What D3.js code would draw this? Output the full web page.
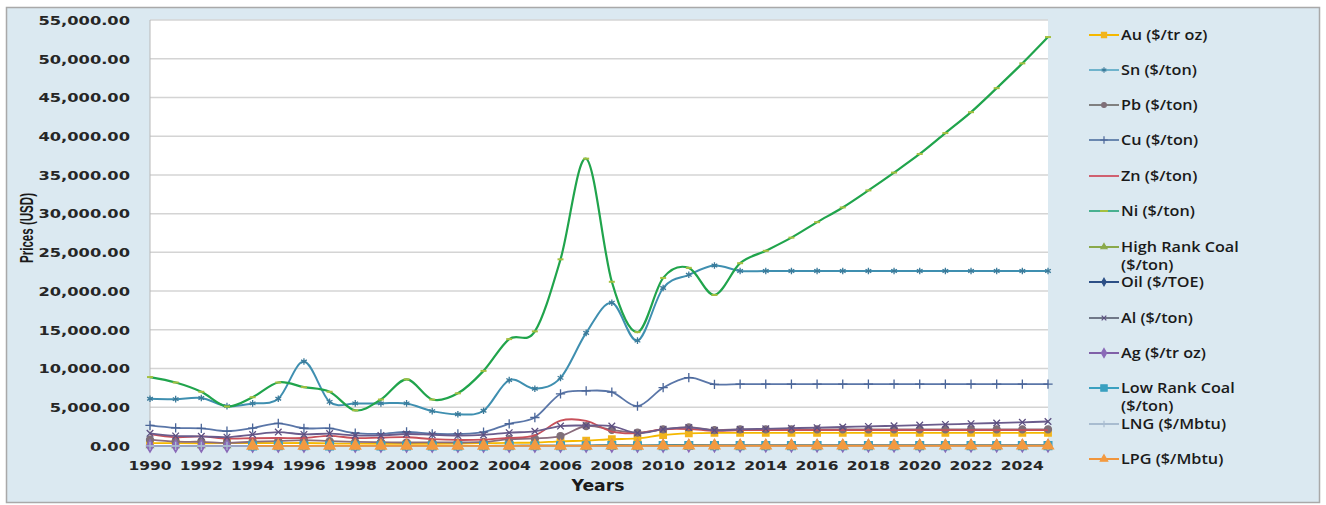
<!DOCTYPE html>
<html><head><meta charset="utf-8">
<script src="https://cdn.jsdelivr.net/npm/d3@7"></script>
<style>html,body{margin:0;padding:0;background:#fff;}svg{display:block;}</style>
</head><body>
<svg id="chart" width="1326" height="505"></svg>
<script>
const years = [1990,1991,1992,1993,1994,1995,1996,1997,1998,1999,2000,2001,2002,2003,2004,2005,2006,2007,2008,2009,2010,2011,2012,2013,2014,2015,2016,2017,2018,2019,2020,2021,2022,2023,2024,2025];
const yTicks = [0,5000,10000,15000,20000,25000,30000,35000,40000,45000,50000,55000];
const xTickYears = [1990,1992,1994,1996,1998,2000,2002,2004,2006,2008,2010,2012,2014,2016,2018,2020,2022,2024];

const au  = [384,362,344,360,384,384,388,331,294,279,279,271,310,363,409,444,604,695,872,972,1420,1630,1700,1700,1700,1700,1700,1700,1700,1700,1700,1700,1700,1700,1700,1700];
const sn  = [6100,6050,6200,5150,5500,6100,10900,5700,5500,5500,5500,4500,4100,4550,8500,7400,8800,14600,18500,13600,20400,22100,23300,22600,22600,22600,22600,22600,22600,22600,22600,22600,22600,22600,22600,22600];
const pb  = [810,560,540,410,550,630,770,620,530,500,450,480,450,520,880,980,1290,2580,2090,1720,2150,2400,2060,2150,2150,2150,2150,2150,2150,2150,2150,2150,2150,2150,2150,2150];
const cu  = [2660,2340,2280,1910,2310,2930,2290,2280,1650,1570,1810,1580,1560,1780,2870,3680,6720,7120,6960,5150,7530,8820,7960,8000,8000,8000,8000,8000,8000,8000,8000,8000,8000,8000,8000,8000];
const zn  = [1520,1120,1240,960,1000,1030,1030,1310,1020,1080,1130,890,780,830,1050,1380,3270,3240,1870,1660,2160,2190,1950,2050,2050,2050,2050,2050,2050,2050,2050,2050,2050,2050,2050,2050];
const ni  = [8900,8200,7000,5100,6300,8200,7600,7000,4600,6000,8600,6000,6800,9700,13800,14800,24100,37100,21200,14700,21700,23000,19500,23600,25200,26900,28900,30800,33000,35300,37700,40400,43100,46200,49400,52800];
const hrc = [40,40,38,33,35,40,40,38,32,30,30,38,30,35,55,52,50,65,125,75,100,120,95,95,95,95,95,95,95,95,95,95,95,95,95,95];
const oil = [23,20,19,17,16,17,21,19,13,18,28,24,25,29,38,54,65,72,97,62,79,104,105,100,100,100,100,100,100,100,100,100,100,100,100,100];
const al  = [1640,1300,1250,1140,1480,1800,1500,1600,1360,1360,1550,1440,1350,1430,1720,1900,2570,2640,2570,1665,2170,2400,2020,2150,2220,2300,2370,2450,2530,2610,2700,2790,2880,2970,3060,3160];
const ag  = [4.8,4.0,3.9,4.3,5.3,5.2,5.2,4.9,5.5,5.2,5.0,4.4,4.6,4.9,6.7,7.3,11.5,13.4,15.0,14.7,20.2,35.1,31.2,31,31,31,31,31,31,31,31,31,31,31,31,31];
const lrc = [null,null,null,null,18,20,20,19,16,15,15,19,15,18,28,26,25,33,63,38,50,60,48,48,48,48,48,48,48,48,48,48,48,48,48,48];
const lng = [3.6,3.7,3.2,3.0,2.8,3.0,3.6,3.7,3.0,3.2,4.7,4.5,4.3,4.8,5.2,6.0,7.1,7.7,12.6,8.9,10.9,14.7,16.6,16,16,16,16,16,16,16,16,16,16,16,16,16];
const lpg = [null,null,null,null,8,8,10,9,6,8,12,11,10,12,15,18,21,24,30,20,25,30,30,30,30,30,30,30,30,30,30,30,30,30,30,30];

const seriesNames = ["Au ($/tr oz)","Sn ($/ton)","Pb ($/ton)","Cu ($/ton)","Zn ($/ton)","Ni ($/ton)","High Rank Coal|($/ton)","Oil ($/TOE)","Al ($/ton)","Ag ($/tr oz)","Low Rank Coal|($/ton)","LNG ($/Mbtu)","LPG ($/Mbtu)"];
const seriesValues = [au,sn,pb,cu,zn,ni,hrc,oil,al,ag,lrc,lng,lpg];

const styles = [
  {line:"#f5b800", mk:"square", mfill:"#f2b41c", mstroke:"#f2b41c", ms:42, w:1.8, lms:26},
  {line:"#3f8fb0", mk:"asterisk", mfill:"none", mstroke:"#3a7a9a", ms:30, w:2, legLine:"#6fb3cc", lms:20},
  {line:"#8a6c7c", mk:"circle", mfill:"#7f6f78", mstroke:"#7f6f78", ms:38, w:1.8, legLine:"#808080", lms:18},
  {line:"#5a76a8", mk:"plus", mfill:"none", mstroke:"#4a6598", ms:30, w:1.8, legLine:"#6a88b0", lms:20},
  {line:"#c8505a", mk:"none", w:1.8, legLine:"#d06070"},
  {line:"#20a44c", mk:"dash", mfill:"none", mstroke:"#a4c040", ms:6, w:2.2, legLine:"#48b090", lms:8},
  {line:"#8aa94a", mk:"triangle", mfill:"#8aa94a", mstroke:"#8aa94a", ms:20, w:1.6, lms:16},
  {line:"#2c4f86", mk:"diamond", mfill:"#2c4f86", mstroke:"#2c4f86", ms:18, w:1.6, lms:16},
  {line:"#6a5c8c", mk:"x", mfill:"none", mstroke:"#5c4f80", ms:30, w:1.8, legLine:"#707888", lms:16},
  {line:"#8060a8", mk:"diamond", mfill:"#8a6ab8", mstroke:"#8a6ab8", ms:45, w:1.6, lms:24},
  {line:"#3aa0c0", mk:"square", mfill:"#3aa0c0", mstroke:"#3aa0c0", ms:60, w:1.6, lms:40},
  {line:"#a8bcd0", mk:"plus", mfill:"none", mstroke:"#a8bcd0", ms:24, w:1.6, lms:16},
  {line:"#f0953c", mk:"triangle", mfill:"#f39a40", mstroke:"#f39a40", ms:52, w:1.8, lms:24}
];

const svg = d3.select("#chart");
svg.append("rect").attr("x",6.5).attr("y",7.5).attr("width",1313).attr("height",495)
  .attr("fill","#dbe9f1").attr("stroke","#a9a9a9").attr("stroke-width",1.5);

const x = d3.scaleLinear().domain([1990,2025]).range([150,1048]);
const y = d3.scaleLinear().domain([0,55000]).range([446,20]);

svg.append("rect").attr("x",150).attr("y",20).attr("width",898).attr("height",426).attr("fill","#ffffff");

function stretch(sel, f){
  sel.each(function(){
    const w = this.getComputedTextLength();
    d3.select(this).attr("textLength", w*f).attr("lengthAdjust","spacingAndGlyphs");
  });
}

svg.append("g").selectAll("line").data(yTicks.filter(d=>d>0)).join("line")
  .attr("x1",150).attr("x2",1048).attr("y1",d=>y(d)).attr("y2",d=>y(d))
  .attr("stroke","#d4d4d4").attr("stroke-width",1.5);

svg.append("line").attr("x1",150).attr("x2",150).attr("y1",20).attr("y2",446).attr("stroke","#b8b8b8").attr("stroke-width",1);
svg.append("line").attr("x1",150).attr("x2",1048).attr("y1",446).attr("y2",446).attr("stroke","#b8b8b8").attr("stroke-width",1);

const fmt = d3.format(",.2f");
const yl = svg.append("g").selectAll("text").data(yTicks).join("text")
  .attr("x",130).attr("y",d=>y(d)+4.8).attr("text-anchor","end")
  .attr("font-family","DejaVu Sans").attr("font-weight","bold").attr("font-size",13)
  .attr("fill","#262626").text(d=>fmt(d));
stretch(yl,1.25);

const xl = svg.append("g").selectAll("text").data(xTickYears).join("text")
  .attr("x",d=>x(d)).attr("y",469.5).attr("text-anchor","middle")
  .attr("font-family","DejaVu Sans").attr("font-weight","bold").attr("font-size",13)
  .attr("fill","#262626").text(d=>d);
stretch(xl,1.19);

const xt = svg.append("text").attr("x",598).attr("y",490.5).attr("text-anchor","middle")
  .attr("font-family","DejaVu Sans").attr("font-weight","bold").attr("font-size",15)
  .attr("fill","#1a1a1a").text("Years");
stretch(xt,1.15);
svg.append("text").attr("transform","translate(33,228) rotate(-90)").attr("text-anchor","middle")
  .attr("font-family","Liberation Sans").attr("font-weight","bold").attr("font-size",18)
  .attr("fill","#1a1a1a").attr("textLength",70).attr("lengthAdjust","spacingAndGlyphs").text("Prices (USD)");

function symPath(kind, size){
  const map = {square:d3.symbolSquare, circle:d3.symbolCircle, triangle:d3.symbolTriangle, diamond:d3.symbolDiamond,
               plus:d3.symbolPlus, x:d3.symbolX, asterisk:d3.symbolAsterisk};
  if (kind === "dash") return `M${-size/2},0L${size/2},0`;
  return d3.symbol().type(map[kind]).size(size)();
}

const line = d3.line().defined(d=>d.v!=null).x(d=>x(d.year)).y(d=>y(d.v)).curve(d3.curveCatmullRom.alpha(0));

const plot = svg.append("g");
seriesValues.forEach((vals,i)=>{
  const st = styles[i];
  const pts = years.map((yr,j)=>({year:yr, v:vals[j]}));
  plot.append("path").datum(pts).attr("d",line).attr("fill","none")
    .attr("stroke",st.line).attr("stroke-width",st.w).attr("stroke-linejoin","round");
  if (st.mk !== "none"){
    plot.append("g").selectAll("path").data(pts.filter(d=>d.v!=null)).join("path")
      .attr("transform",d=>`translate(${x(d.year)},${y(d.v)})`)
      .attr("d",symPath(st.mk, st.ms))
      .attr("fill",st.mfill).attr("stroke",st.mstroke).attr("stroke-width",st.mk==="dash"?2:1.3);
  }
});

const legY = [35,70,105,140,176,211,247,282,318,353,388,424,459];
const leg = svg.append("g");
seriesNames.forEach((name,i)=>{
  const st = styles[i];
  const cy = legY[i];
  leg.append("line").attr("x1",1089).attr("x2",1119).attr("y1",cy).attr("y2",cy)
    .attr("stroke",st.legLine||st.line).attr("stroke-width",2);
  if (st.mk !== "none"){
    leg.append("path").attr("transform",`translate(1104,${cy})`).attr("d",symPath(st.mk,st.lms))
      .attr("fill",st.mfill).attr("stroke",st.mstroke).attr("stroke-width",st.mk==="dash"?2:1.2);
  }
  name.split("|").forEach((t,k)=>{
    const tx = leg.append("text").attr("x",1121).attr("y",cy+5+k*18)
      .attr("font-family","Open Sans").attr("font-weight",600).attr("font-size",13.5)
      .attr("fill","#1a1a1a").text(t);
    stretch(tx,1.2);
  });
});
</script>
</body></html>
